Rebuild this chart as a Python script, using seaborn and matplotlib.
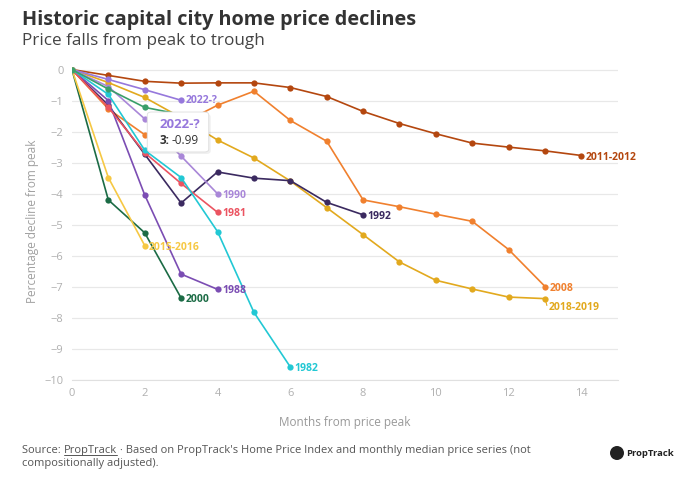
import pandas as pd
import seaborn as sns
import matplotlib.pyplot as plt
from matplotlib.patches import FancyBboxPatch, Ellipse
from matplotlib.lines import Line2D

# Series values (percentage decline from peak), index = months from peak
s_2011_2012 = [0, -0.19, -0.38, -0.44, -0.43, -0.43, -0.58, -0.87, -1.35, -1.74, -2.07, -2.37, -2.5, -2.62, -2.77]
s_2008 = [0, -1.27, -2.1, -1.75, -1.15, -0.7, -1.64, -2.31, -4.2, -4.42, -4.66, -4.89, -5.8, -6.99]
s_2018_2019 = [0, -0.42, -0.9, -1.55, -2.27, -2.85, -3.59, -4.45, -5.32, -6.2, -6.79, -7.07, -7.33, -7.38]
s_1992 = [0, -1.15, -2.73, -4.3, -3.3, -3.5, -3.58, -4.28, -4.68]
s_1990 = [0, -0.55, -1.59, -2.79, -4.0]
s_2022 = [0, -0.32, -0.65, -0.99]
s_1988 = [0, -1.0, -4.04, -6.59, -7.08]
s_1981 = [0, -1.22, -2.68, -3.67, -4.6]
s_1982 = [0, -0.8, -2.6, -3.48, -5.22, -7.82, -9.58]
s_2000 = [0, -4.2, -5.26, -7.36]
s_2015_2016 = [0, -3.48, -5.67]
s_hidden = [0, -0.63, -1.22, -1.45]

series = {
    "2011-2012": s_2011_2012,
    "2008": s_2008,
    "2018-2019": s_2018_2019,
    "1992": s_1992,
    "1990": s_1990,
    "2022-?": s_2022,
    "1988": s_1988,
    "1981": s_1981,
    "1982": s_1982,
    "2000": s_2000,
    "2015-2016": s_2015_2016,
    "": s_hidden,
}

colors = {
    "2011-2012": "#b4470f",
    "2008": "#f0802e",
    "2018-2019": "#e2a91e",
    "1992": "#3b2a60",
    "1990": "#a987d8",
    "2022-?": "#9678dc",
    "1988": "#7b4db3",
    "1981": "#eb5461",
    "1982": "#22c8d4",
    "2000": "#1b6b45",
    "2015-2016": "#f6c844",
    "": "#3a9f6a",
}

rows = []
for name, vals in series.items():
    for m, v in enumerate(vals):
        rows.append({"series": name, "month": m, "decline": v})
df = pd.DataFrame(rows)

sns.set_style("white")
plt.rcParams["font.family"] = ["Open Sans", "DejaVu Sans"]

fig = plt.figure(figsize=(6.85, 4.98), dpi=100)
ax = fig.add_axes([0.105, 0.237, 0.797, 0.639])

for name in series:
    sub = df[df["series"] == name]
    sns.lineplot(data=sub, x="month", y="decline", color=colors[name], marker="o",
                 markersize=4.5, markeredgewidth=0, linewidth=1.2, ax=ax, zorder=3)

# end labels
offsets = {"2018-2019": (0.1, -0.3), "2022-?": (0.12, 0.0)}
for name, vals in series.items():
    if not name:
        continue
    dx, dy = offsets.get(name, (0.12, -0.05))
    x, y = len(vals) - 1, vals[-1]
    ax.text(x + dx, y + dy, name, color=colors[name], fontsize=7.5, fontweight="bold",
            va="center", ha="left", zorder=4)
ax.plot([13, 13.05], [-7.38, -7.6], color=colors["2018-2019"], lw=0.8)

ax.set_xlim(0, 15)
ax.set_ylim(-10, 0.25)
ax.set_xticks(range(0, 15, 2))
ax.set_yticks(range(-10, 1))
ax.yaxis.grid(True, color="#e8e8e8", linewidth=0.9)
ax.xaxis.grid(False)
for s in ["top", "right", "left"]:
    ax.spines[s].set_visible(False)
ax.spines["bottom"].set_color("#e0e0e0")
ax.tick_params(axis="both", colors="#b0b0b0", labelsize=8, length=0, pad=6)
ax.set_xlabel("Months from price peak", color="#999999", fontsize=8.5, labelpad=12)
ax.set_ylabel("Percentage decline from peak", color="#a0a0a0", fontsize=8.5, labelpad=4)

# tooltip
shadow = FancyBboxPatch((152 / 685, 1 - 152 / 498), 56 / 685, 36 / 498,
                        boxstyle="round,pad=0.004,rounding_size=0.006",
                        transform=fig.transFigure, facecolor="#000000", alpha=0.06,
                        edgecolor="none", zorder=9)
tip = FancyBboxPatch((150 / 685, 1 - 150 / 498), 56 / 685, 36 / 498,
                     boxstyle="round,pad=0.004,rounding_size=0.006",
                     transform=fig.transFigure, facecolor="white", edgecolor="#dddddd",
                     linewidth=0.6, zorder=10)
fig.patches.extend([shadow, tip])
fig.text(160 / 685, 1 - 125 / 498, "2022-?", color=colors["2022-?"], fontsize=9.5,
         fontweight="bold", va="center", zorder=11)
fig.text(160 / 685, 1 - 141 / 498, "3:", color="#333333", fontsize=8.5,
         fontweight="bold", va="center", zorder=11)
fig.text(172 / 685, 1 - 141 / 498, "-0.99", color="#333333", fontsize=8.5,
         va="center", zorder=11)

# titles
fig.text(22 / 685, 1 - 20 / 498, "Historic capital city home price declines", fontsize=14.3,
         fontweight="bold", color="#333333", va="center")
fig.text(22 / 685, 1 - 41 / 498, "Price falls from peak to trough", fontsize=12.3,
         color="#444444", va="center")

# footer
fs = 8
r = fig.canvas.get_renderer()
t1 = fig.text(22 / 685, 1 - 450 / 498, "Source: ", fontsize=fs, color="#555555", va="center")
x1 = fig.transFigure.inverted().transform(t1.get_window_extent(r))[1][0]
t2 = fig.text(x1, 1 - 450 / 498, "PropTrack", fontsize=fs, color="#555555", va="center")
x2 = fig.transFigure.inverted().transform(t2.get_window_extent(r))[1][0]
fig.lines.append(Line2D([x1, x2], [1 - 454.5 / 498] * 2, color="#555555", lw=0.7,
                        transform=fig.transFigure))
fig.text(x2, 1 - 450 / 498,
         " \u00b7 Based on PropTrack's Home Price Index and monthly median price series (not",
         fontsize=fs, color="#555555", va="center")
fig.text(22 / 685, 1 - 463 / 498, "compositionally adjusted).", fontsize=fs,
         color="#555555", va="center")
fig.patches.append(Ellipse((617 / 685, 1 - 453 / 498), 14 / 685, 14 / 498,
                           transform=fig.transFigure, facecolor="#222222", edgecolor="none"))
fig.text(626 / 685, 1 - 453 / 498, "PropTrack", fontsize=6.8, fontweight="bold",
         color="#222222", va="center")

fig.savefig("out.png", dpi=100)
